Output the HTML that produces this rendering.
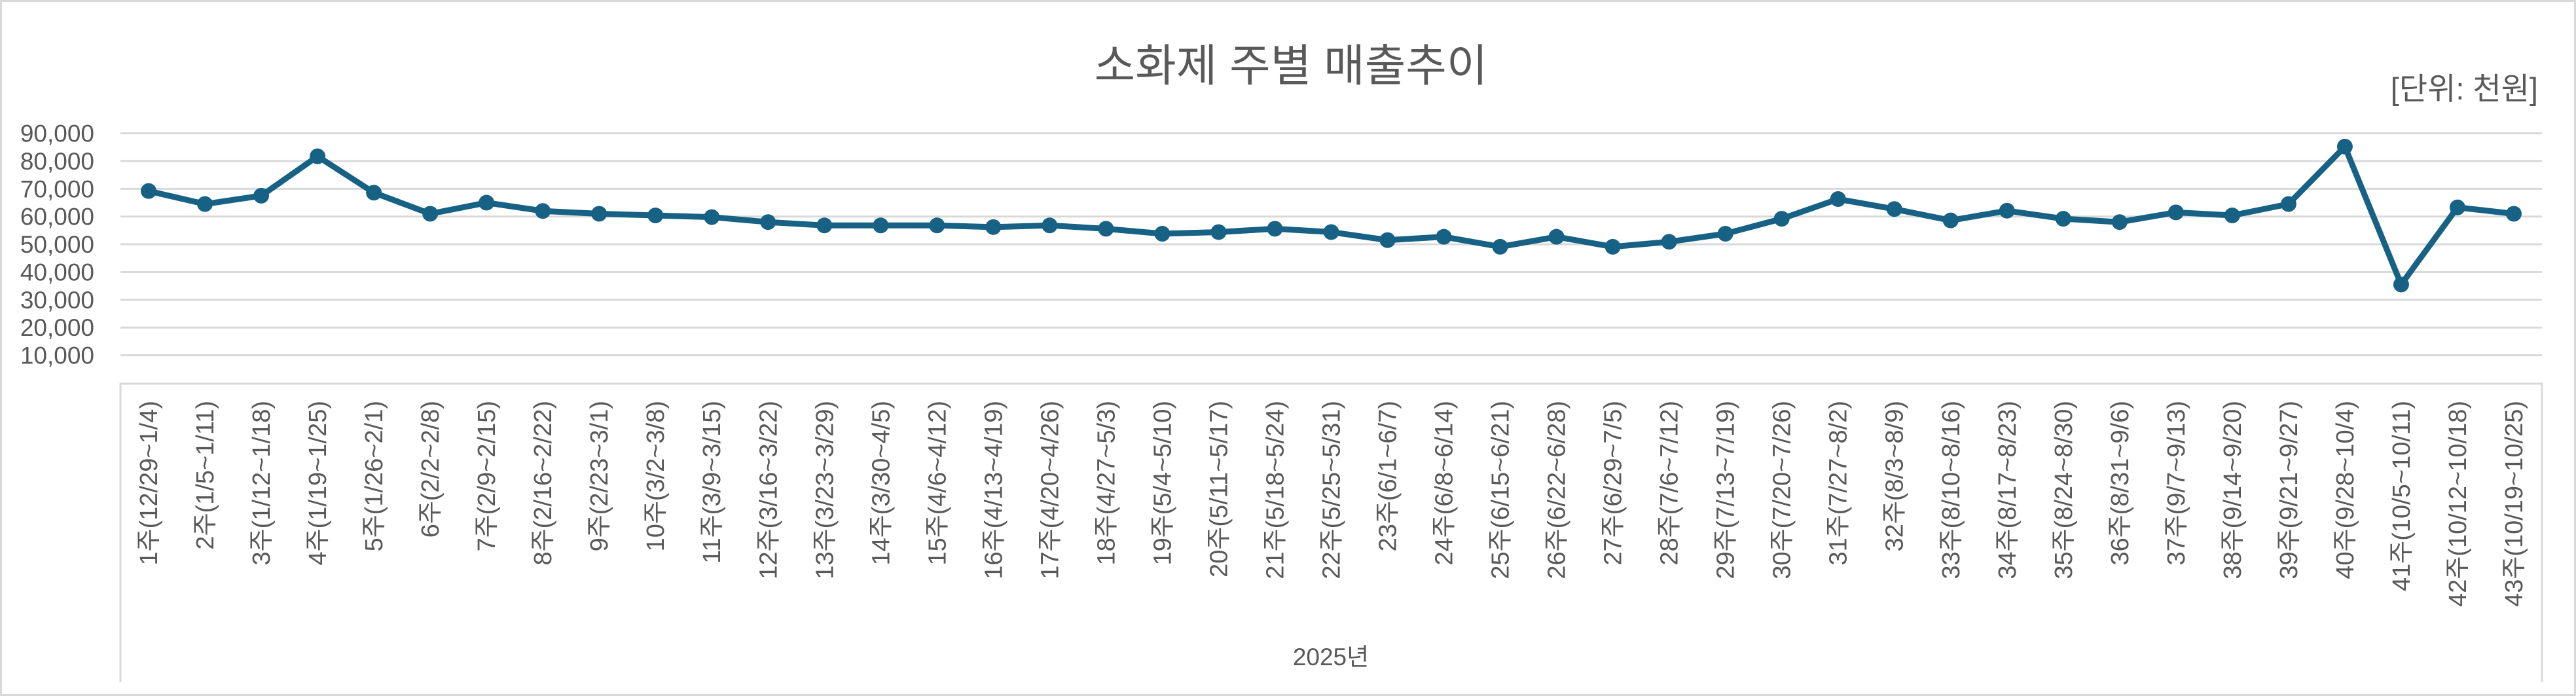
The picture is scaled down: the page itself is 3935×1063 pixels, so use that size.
<!DOCTYPE html>
<html><head><meta charset="utf-8"><style>
html,body{margin:0;padding:0;background:#fff}
svg{display:block}
text{font-family:"Liberation Sans","Noto Sans CJK KR",sans-serif;fill:#595959}
</style></head><body>
<svg width="3935" height="1063" viewBox="0 0 3935 1063" xmlns="http://www.w3.org/2000/svg">
<rect x="1.5" y="1.5" width="3932" height="1060" fill="#fff" stroke="#d9d9d9" stroke-width="3"/>
<text x="1972" y="124" font-size="68" text-anchor="middle">소화제 주별 매출추이</text>
<text x="3877" y="152" font-size="47" text-anchor="end">[단위: 천원]</text>
<g id="grid" stroke="#d9d9d9" stroke-width="3"></g>
<g id="ylab" font-size="37" text-anchor="end"></g>
<path d="M184 1042 V586 H3883 V1042" fill="none" stroke="#d9d9d9" stroke-width="3"/>
<g id="xlab" font-size="38" text-anchor="end"></g>
<text x="2033" y="1016" font-size="37" text-anchor="middle">2025년</text>
<g id="series"></g>
</svg>
<script>
var ns="http://www.w3.org/2000/svg";
function el(t,a,p,txt){var e=document.createElementNS(ns,t);for(var k in a)e.setAttribute(k,a[k]);if(txt)e.textContent=txt;p.appendChild(e);return e;}
var g=document.getElementById('grid'),yl=document.getElementById('ylab');
function Y(v){return 585-v*0.004238;}
for(var i=1;i<=9;i++){var y=Y(i*10000);el('line',{x1:184,x2:3883,y1:y,y2:y},g);el('text',{x:144,y:y+13},yl,(i*10)+',000');}
var labels=["1주(12/29~1/4)","2주(1/5~1/11)","3주(1/12~1/18)","4주(1/19~1/25)","5주(1/26~2/1)","6주(2/2~2/8)","7주(2/9~2/15)","8주(2/16~2/22)","9주(2/23~3/1)","10주(3/2~3/8)","11주(3/9~3/15)","12주(3/16~3/22)","13주(3/23~3/29)","14주(3/30~4/5)","15주(4/6~4/12)","16주(4/13~4/19)","17주(4/20~4/26)","18주(4/27~5/3)","19주(5/4~5/10)","20주(5/11~5/17)","21주(5/18~5/24)","22주(5/25~5/31)","23주(6/1~6/7)","24주(6/8~6/14)","25주(6/15~6/21)","26주(6/22~6/28)","27주(6/29~7/5)","28주(7/6~7/12)","29주(7/13~7/19)","30주(7/20~7/26)","31주(7/27~8/2)","32주(8/3~8/9)","33주(8/10~8/16)","34주(8/17~8/23)","35주(8/24~8/30)","36주(8/31~9/6)","37주(9/7~9/13)","38주(9/14~9/20)","39주(9/21~9/27)","40주(9/28~10/4)","41주(10/5~10/11)","42주(10/12~10/18)","43주(10/19~10/25)"];
var vals=[69.2,64.5,67.5,81.7,68.6,61,65,62,61,60.4,59.8,58,56.8,56.8,56.8,56.2,56.8,55.6,53.8,54.4,55.6,54.4,51.5,52.7,49.1,52.7,49.1,50.9,53.8,59.2,66.3,62.7,58.6,62.1,59.2,58,61.5,60.4,64.5,85.2,35.5,63.3,61];
var step=3699/43,xl=document.getElementById('xlab'),s=document.getElementById('series');
var pts=[];
for(var i=0;i<43;i++){var x=184+step*(i+0.5);pts.push([x,Y(vals[i]*1000)]);
el('text',{x:0,y:0,transform:'translate('+(x+13)+',612) rotate(-90)'},xl,labels[i]);}
el('polyline',{points:pts.map(function(p){return p.join(',')}).join(' '),fill:'none',stroke:'#176185','stroke-width':9,'stroke-linejoin':'round'},s);
pts.forEach(function(p){el('circle',{cx:p[0],cy:p[1],r:12,fill:'#176185'},s);});
</script>
</body></html>
